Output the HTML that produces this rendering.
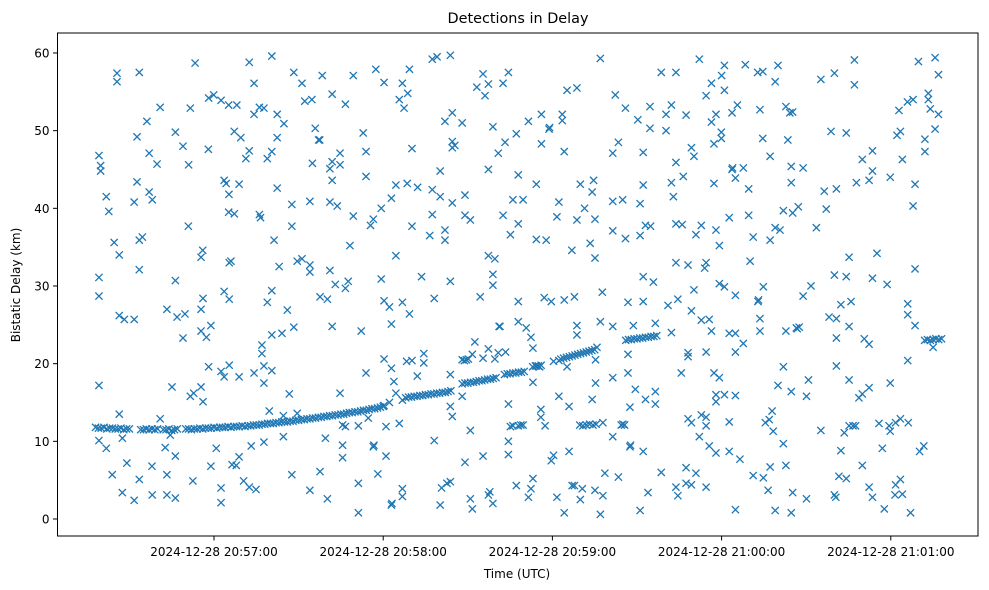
<!DOCTYPE html>
<html><head><meta charset="utf-8"><style>
body{margin:0;background:#fff;}
svg{display:block;font-family:"DejaVu Sans","Liberation Sans",sans-serif;}
</style></head><body>
<svg id="chart" width="989" height="590" viewBox="0 0 989 590">
<rect x="0" y="0" width="989" height="590" fill="#fff"/>
<text x="518" y="23" text-anchor="middle" font-size="14.4" fill="#000">Detections in Delay</text>
<text x="517" y="578" text-anchor="middle" font-size="12" fill="#000">Time (UTC)</text>
<text transform="translate(20,285) rotate(-90)" text-anchor="middle" font-size="12" fill="#000">Bistatic Delay (km)</text>
<g id="marks"></g>
<g id="axes"></g>
</svg>
<script>
// time in seconds after 2024-12-28 20:57:00 UTC, delay in km
const xTickSec = [0, 60, 120, 180, 240];
const xTickLabels = ["2024-12-28 20:57:00","2024-12-28 20:58:00","2024-12-28 20:59:00","2024-12-28 21:00:00","2024-12-28 21:01:00"];
const yTicks = [0, 10, 20, 30, 40, 50, 60];
const trackStart = [-42,-26,-18,-10,13,68,88,103,113,123,146,252];
const trackKm = [
 [11.8,11.7,11.7,11.8,11.6,11.7,11.7,11.6,11.6,11.7,11.5,11.6,11.6],
 [11.5,11.5,11.6,11.5,11.6,11.5,11.6],
 [11.5,11.5,11.6,11.4,11.5,11.6],
 [11.6,11.6,11.5,11.6,11.6,11.7,11.6,11.7,11.7,11.7,11.8,11.7,11.8,11.8,11.8,11.9,11.8,11.9,11.9,11.9,12.0,11.9,12.0],
 [12.0,12.1,12.1,12.1,12.2,12.2,12.3,12.3,12.3,12.4,12.4,12.5,12.5,12.5,12.6,12.6,12.7,12.7,12.8,12.8,12.9,12.9,13.0,13.0,13.1,13.1,13.2,13.2,13.3,13.3,13.4,13.4,13.5,13.5,13.6,13.7,13.7,13.8,13.8,13.9,14.0,14.0,14.1,14.2,14.2,14.3,14.4,14.5],
 [15.6,15.7,15.7,15.8,15.8,15.9,15.9,16.0,16.0,16.1,16.1,16.2,16.2,16.3,16.3,16.4,16.5],
 [17.4,17.5,17.5,17.6,17.6,17.7,17.8,17.8,17.9,18.0,18.0,18.1,18.2],
 [18.6,18.7,18.7,18.8,18.8,18.9,18.9,19.0],
 [19.6,19.7,19.7,19.8],
 [20.6,20.7,20.8,20.9,21.0,21.1,21.2,21.3,21.4,21.5,21.6,21.7,21.8],
 [23.0,23.1,23.1,23.2,23.2,23.3,23.3,23.4,23.4,23.5,23.5,23.6],
 [23.0,23.1,23.0,23.1,23.2,23.1,23.2]
];
const noise = [
[-6.7,58.7],[-34.4,57.4],[-34.4,56.3],[-26.5,57.5],[-19.1,53.0],[-8.4,52.9],[-1.9,54.2],[-0.1,54.6],[2.5,53.9],[5.2,53.3],[8.1,53.3],
[-23.8,51.2],[-13.7,49.8],[-27.3,49.2],[7.2,49.9],[9.5,49.1],[-11,48.0],[-2.0,47.6],[-23,47.1],[-40.8,46.8],[-20.2,45.7],[-9,45.6],
[-40.2,45.5],[-40.2,44.8],[-27.3,43.4],[3.6,43.6],[4.3,43.2],[8.9,43.1],[-23,42.1],[-21.9,41.1],[-38.2,41.5],[-28.3,40.8],[5.3,41.8],
[-37.3,39.6],[5.2,39.5],[7.2,39.3],[-9.1,37.7],[-35.4,35.6],[-33.6,34.0],[-26.5,35.9],[-25.4,36.3],[-4.0,34.6],[-4.6,33.7],[-26.5,32.1],
[5.4,33.0],[6,33.2],[-40.8,31.1],[-13.7,30.7],[-40.8,28.7],[3.6,29.3],[5.4,28.3],[-3.9,28.4],[-16.7,27.0],[-4.6,27.0],[-33.6,26.2],
[-31.8,25.7],[-28.3,25.7],[-13.1,26.0],[-10.3,26.4],[-4.6,24.2],[-2.7,23.4],[-1.1,24.9],[-11,23.3],[-1.9,19.6],[2.5,19.0],[5.4,19.8],
[3.6,18.3],[8.9,18.3],[-40.8,17.2],[-14.9,17.0],[-4.6,17.0],[-8.4,15.8],[-7.2,16.2],[-3.9,15.1],[-33.6,13.5],[-19.1,12.9],[-40.8,10.1],
[-38.2,9.1],[-32.5,10.4],[-15.5,10.8],[-17.3,9.2],[-13.7,8.1],[0.8,9.1],[-30.9,7.2],[-36.1,5.7],[-22,6.8],[-26.5,5.1],[-16.7,5.7],
[-1.1,6.8],[6.4,7.0],[7.9,6.9],[8.9,8.0],[10.5,4.9],[-7.5,4.9],[-32.5,3.4],[-28.3,2.4],[-21.9,3.1],[-16.7,3.1],[-13.7,2.7],[2.5,4.0],[2.5,2.1],
[12.5,58.8],[20.5,59.6],[14.2,56.1],[28.3,57.5],[31.2,56.1],[38.4,57.1],[49.4,57.1],[57.4,57.9],[60.3,56.2],[66.8,56.1],[69.3,57.9],
[68.7,54.8],[65.7,54.0],[67.4,52.9],[41.9,54.7],[46.6,53.4],[32.2,53.8],[34.7,54.0],[14.2,52.1],[16.1,53.0],[17.7,52.9],[22.4,52.1],
[24.8,50.9],[35.9,50.3],[37.1,48.8],[37.5,48.8],[22.4,49.1],[52.9,49.7],[12.5,47.4],[11.3,46.4],[18.9,46.4],[20.5,47.3],[34.9,45.8],
[41.1,45.1],[41.9,46.0],[44.7,47.1],[44.7,45.6],[53.9,47.3],[70.2,47.7],[41.9,43.6],[53.9,44.1],[22.4,42.6],[64.5,43.0],[68.5,43.2],
[72.2,42.7],[62.9,41.3],[27.6,40.5],[34.0,40.9],[41.1,40.8],[43.7,40.3],[59.3,40.0],[16.1,39.2],[16.5,38.8],[49.4,39.0],[56.5,38.6],
[55.5,37.8],[27.6,37.7],[70.2,37.7],[21.3,35.9],[48.2,35.2],[64.5,33.9],[23.1,32.5],[29.5,33.2],[31.2,33.5],[34.0,32.7],[34.0,31.8],
[41.1,32.0],[43.0,30.2],[46.6,29.7],[47.6,30.6],[37.6,28.6],[40.2,28.3],[20.5,29.4],[18.9,27.9],[26.0,26.9],[59.3,30.9],[60.3,28.1],
[62.2,27.3],[66.8,27.9],[69.3,26.4],[62.9,25.1],[73.6,31.2],[20.5,23.7],[24.1,23.9],[28.3,24.7],[41.9,24.8],[52.2,24.2],[17.0,22.4],
[17.0,21.3],[14.2,18.8],[17.7,19.7],[20.5,19.1],[17.7,17.5],[26.7,16.1],[44.7,16.2],[53.9,18.8],[60.3,20.6],[62.9,19.4],[63.8,17.7],
[68.3,20.3],[70.2,20.4],[74.4,21.3],[74.4,20.1],[72.1,18.4],[64.5,16.2],[66.8,15.3],[62.2,15.0],[60.3,14.6],[19.6,13.9],[24.6,13.3],
[29.5,13.6],[45.6,12.1],[46.6,11.9],[51.2,12.0],[54.7,13.0],[61.0,11.9],[65.7,12.3],[24.6,10.6],[39.5,10.4],[13.2,9.4],[17.7,9.9],
[45.6,9.5],[45.6,7.9],[56.5,9.3],[56.7,9.5],[61.0,8.1],[27.6,5.7],[37.6,6.1],[58.1,5.8],[12.5,4.1],[14.9,3.8],[34.0,3.7],[40.2,2.6],
[51.2,4.6],[51.2,0.8],[62.9,1.8],[63.1,2.0],[66.8,3.9],[66.8,2.9],
[77.4,59.2],[79.1,59.5],[83.8,59.7],[95.4,57.3],[104.4,57.5],[102.5,56.1],[93.2,55.6],[97.3,56.0],[96.1,54.5],[125.2,55.2],[128.7,55.5],
[137.0,59.3],[81.9,51.2],[84.5,52.3],[88.0,51.0],[98.9,50.5],[107.2,49.6],[111.5,51.2],[116.1,52.1],[118.8,50.2],[119.0,50.4],[123.5,52.1],
[123.5,51.3],[103.2,48.5],[100.8,47.1],[116.1,48.3],[124.2,47.3],[84.5,48.6],[84.5,47.8],[85.4,48.1],[80.2,44.8],[97.3,45.0],[107.9,44.3],
[114.3,43.1],[77.4,42.4],[80.2,41.5],[84.5,40.7],[89.0,41.7],[106.0,41.1],[109.6,41.1],[102.5,39.1],[89.0,39.1],[90.9,38.5],[77.4,39.2],
[76.5,36.5],[81.9,37.2],[81.9,35.9],[105.1,36.6],[107.9,38.0],[114.3,36.0],[117.8,35.9],[122.3,40.8],[121.6,38.9],[128.7,38.5],[131.4,40.0],
[129.9,43.1],[134.6,43.6],[134.1,42.1],[135.1,38.6],[133.4,35.5],[126.9,34.6],[135.1,33.6],[97.3,33.9],[99.6,33.5],[98.9,31.5],[98.9,30.1],
[83.8,30.6],[78.1,28.4],[94.4,28.6],[107.9,28.0],[117.1,28.5],[119.6,28.0],[124.2,28.2],[127.8,28.6],[137.7,29.2],[101.1,24.8],[101.4,24.8],
[107.9,25.4],[110.7,24.6],[112.4,23.4],[113.1,22.0],[92.5,22.8],[128.7,24.9],[128.7,23.7],[137.0,25.4],[135.8,22.1],[88.0,20.5],[89.5,20.5],
[88.8,20.4],[90.2,20.6],[91.6,21.2],[95.4,20.7],[97.3,21.9],[99.6,20.6],[100.8,21.4],[103.4,21.5],[114.3,19.7],[115.5,19.6],[120.4,20.3],
[122.3,20.4],[125.2,19.6],[135.3,20.5],[135.3,17.5],[113.1,17.6],[83.8,18.6],[122.3,15.8],[125.9,14.5],[134.1,15.4],[104.4,14.8],[83.8,14.5],
[84.5,13.2],[88.0,15.8],[90.9,11.4],[105.1,11.9],[106.0,12.0],[107.9,12.0],[108.8,12.1],[109.6,12.1],[115.9,14.1],[115.9,13.1],[117.4,12.0],
[129.7,12.1],[130.8,12.0],[132.0,12.1],[133.2,12.2],[134.4,12.1],[135.5,12.2],[137.9,12.4],[78.1,10.1],[104.4,10.0],[104.4,8.3],[95.4,8.1],
[89.0,7.3],[119.6,7.5],[120.4,8.2],[125.9,8.7],[80.7,4.0],[82.6,4.6],[83.8,4.8],[80.2,1.8],[90.9,2.6],[91.6,1.3],[97.3,3.1],[97.8,3.5],
[98.9,2.0],[107.2,4.3],[113.1,5.2],[112.4,3.9],[111.5,2.8],[121.6,2.8],[124.2,0.8],[127.0,4.3],[127.8,4.3],[130.6,3.9],[129.9,2.5],[135.1,3.7],
[137.9,3.0],[137.0,0.6],[138.6,5.9],
[142.3,54.6],[158.6,57.5],[163.8,57.5],[172.1,59.2],[181.0,58.4],[188.4,58.5],[192.8,57.5],[194.6,57.6],[200.0,58.4],[180.0,57.1],[176.4,56.1],
[181.0,55.2],[174.5,54.5],[199.0,56.3],[145.9,52.9],[150.3,51.4],[154.6,53.1],[154.6,50.3],[160.3,52.1],[162.2,53.3],[160.3,50.0],[167.4,52.0],
[176.4,51.1],[178.0,52.1],[183.7,52.3],[185.6,53.3],[193.6,52.7],[202.8,53.1],[204.2,52.3],[205.2,52.4],[143.4,48.5],[141.4,47.1],[152.2,47.2],
[169.3,47.8],[170.2,46.7],[177.3,48.3],[179.9,49.0],[179.9,49.8],[194.6,49.0],[197.2,46.7],[203.5,48.8],[163.8,45.9],[166.4,44.1],[162.2,43.3],
[152.2,43.0],[162.9,41.5],[177.3,43.2],[183.7,45.0],[183.9,45.2],[187.7,45.2],[184.9,43.9],[189.6,42.5],[204.7,45.4],[204.7,43.3],[141.4,40.9],
[144.9,41.1],[151.1,40.6],[182.7,38.8],[189.6,39.1],[201.9,39.7],[205.2,39.4],[141.4,37.1],[145.9,36.1],[151.1,36.5],[153.0,37.8],[154.8,37.7],
[163.8,38.0],[166.0,37.9],[170.9,36.6],[172.8,37.8],[178.0,37.2],[179.2,35.2],[191.2,36.3],[197.2,35.9],[199.0,37.5],[200.7,37.2],[163.8,33.0],
[168.1,32.7],[174.0,32.3],[174.5,33.0],[190.1,33.2],[152.2,31.2],[155.8,30.5],[170.2,29.5],[179.2,30.3],[181.0,29.9],[184.9,28.8],[194.8,29.9],
[146.8,27.9],[152.2,28.0],[161.0,27.5],[164.5,28.3],[169.3,26.8],[172.8,25.6],[175.6,25.7],[156.5,25.2],[148.7,24.9],[141.4,24.8],[162.2,24.0],
[176.4,24.2],[182.7,23.9],[184.9,23.9],[187.7,22.6],[184.9,21.5],[193.6,25.8],[193.6,24.2],[192.9,28.0],[193.1,28.2],[202.8,24.2],[174.5,21.5],
[146.8,21.2],[168.1,21.4],[168.1,20.9],[141.4,18.2],[146.8,18.8],[165.7,18.8],[177.3,18.8],[179.2,18.2],[201.9,19.6],[200.0,17.2],[204.7,16.4],
[149.4,16.7],[153.0,15.4],[156.5,16.4],[156.5,14.8],[147.5,14.4],[178.0,16.0],[178.0,15.1],[181.0,16.0],[184.9,15.9],[197.9,13.9],[196.9,12.8],
[195.5,12.4],[198.3,11.3],[201.9,9.7],[144.4,12.1],[145.6,12.1],[145.0,12.2],[141.4,10.6],[147.5,9.3],[147.7,9.5],[152.2,8.7],[168.1,12.9],
[169.3,12.4],[172.8,13.4],[174.5,13.1],[174.5,12.0],[172.1,10.6],[175.6,9.4],[178.0,8.5],[182.7,12.5],[182.7,8.7],[186.5,7.7],[143.4,5.4],
[158.6,6.0],[167.4,6.6],[170.9,5.9],[163.8,4.1],[164.5,3.0],[167.4,4.6],[169.3,4.4],[174.5,4.1],[153.9,3.4],[151.1,1.1],[184.9,1.2],[191.2,5.6],
[194.8,5.3],[197.2,6.7],[196.5,3.7],[199.0,1.1],[202.8,6.9],[204.7,0.8],[205.2,3.4],[206.5,24.6],[207.5,24.7],[206.8,24.5],
[227.1,59.1],[220.0,57.4],[215.2,56.6],[227.1,55.9],[249.8,58.9],[255.7,59.4],[256.9,57.2],[242.9,52.6],[245.9,53.7],[247.9,54.0],[253.3,54.8],
[253.3,54.0],[254.0,52.8],[256.9,52.1],[255.7,50.2],[252.1,48.9],[252.1,47.3],[244.1,46.3],[242.2,49.4],[243.4,49.9],[218.8,49.9],[224.2,49.7],
[233.5,47.4],[229.9,46.3],[233.5,44.8],[227.8,43.3],[232.3,43.6],[239.8,44.0],[248.6,43.1],[247.9,40.3],[208.9,45.2],[216.4,42.2],[220.7,42.5],
[217.1,39.9],[207.2,40.2],[213.6,37.5],[225.2,33.7],[235.1,34.2],[220.0,31.4],[224.2,31.2],[233.5,31.0],[238.7,30.2],[248.6,32.2],[211.7,30.0],
[208.9,28.7],[222.3,27.6],[225.9,28.0],[218.1,26.0],[220.7,25.8],[225.2,24.8],[220.7,23.3],[230.6,23.2],[232.3,22.5],[246.0,27.7],[246.0,26.3],
[248.6,24.9],[246.0,20.4],[220.7,19.7],[225.2,17.9],[210.8,17.9],[210.1,15.8],[228.7,15.6],[229.9,16.1],[232.3,16.9],[239.8,17.5],[215.2,11.4],
[223.5,11.1],[225.2,12.0],[226.6,12.0],[227.5,12.0],[235.8,12.3],[239.4,12.0],[239.8,11.3],[241.7,12.4],[243.4,12.9],[246.2,12.4],[222.3,8.8],
[237.0,9.1],[250.2,8.7],[251.7,9.4],[229.9,6.9],[221.6,5.5],[224.2,5.2],[232.3,4.1],[233.5,2.8],[220.0,3.1],[220.5,2.8],[210.1,2.6],[241.7,4.4],
[243.4,5.1],[244.1,3.2],[241.5,3.1],[237.7,1.3],[247.0,0.8],[255.0,22.1]
];

const NS = "http://www.w3.org/2000/svg";
const L = 57.5, R = 978, T = 33, B = 536;
function xs(t){ return 214 + 2.82 * t; }
function ys(km){ return 519 - 7.767 * km; }

const marks = document.getElementById('marks');
function marker(t, km, name){
  const x = xs(t), y = ys(km), s = 3.6;
  const p = document.createElementNS(NS, 'path');
  p.setAttribute('d', `M${x-s},${y-s}L${x+s},${y+s}M${x-s},${y+s}L${x+s},${y-s}`);
  p.setAttribute('stroke', '#1f77b4');
  p.setAttribute('stroke-width', '1.3');
  p.setAttribute('fill', 'none');
  
  
  marks.appendChild(p);
}
noise.forEach(d => marker(d[0], d[1], 'detection-point'));
trackKm.forEach((seg, si) => seg.forEach((km, i) => marker(trackStart[si] + i, km, 'track-point')));

const axes = document.getElementById('axes');
const frame = document.createElementNS(NS, 'rect');
frame.setAttribute('x', L); frame.setAttribute('y', T);
frame.setAttribute('width', R - L); frame.setAttribute('height', B - T);
frame.setAttribute('fill', 'none'); frame.setAttribute('stroke', '#000'); frame.setAttribute('stroke-width', '1');


axes.appendChild(frame);

xTickSec.forEach((s, i) => {
  const x = xs(s);
  const ln = document.createElementNS(NS, 'line');
  ln.setAttribute('x1', x); ln.setAttribute('x2', x); ln.setAttribute('y1', B); ln.setAttribute('y2', B + 4.5);
  ln.setAttribute('stroke', '#000');
  
  
  axes.appendChild(ln);
  const tx = document.createElementNS(NS, 'text');
  tx.setAttribute('x', x); tx.setAttribute('y', B + 20);
  tx.setAttribute('text-anchor', 'middle'); tx.setAttribute('font-size', '12');
  tx.textContent = xTickLabels[i];
  
  
  axes.appendChild(tx);
});
yTicks.forEach(v => {
  const y = ys(v);
  const ln = document.createElementNS(NS, 'line');
  ln.setAttribute('x1', L - 4.5); ln.setAttribute('x2', L); ln.setAttribute('y1', y); ln.setAttribute('y2', y);
  ln.setAttribute('stroke', '#000');
  
  
  axes.appendChild(ln);
  const tx = document.createElementNS(NS, 'text');
  tx.setAttribute('x', L - 8); tx.setAttribute('y', y + 4.5);
  tx.setAttribute('text-anchor', 'end'); tx.setAttribute('font-size', '12');
  tx.textContent = v;
  
  
  axes.appendChild(tx);
});
</script>
</body></html>
